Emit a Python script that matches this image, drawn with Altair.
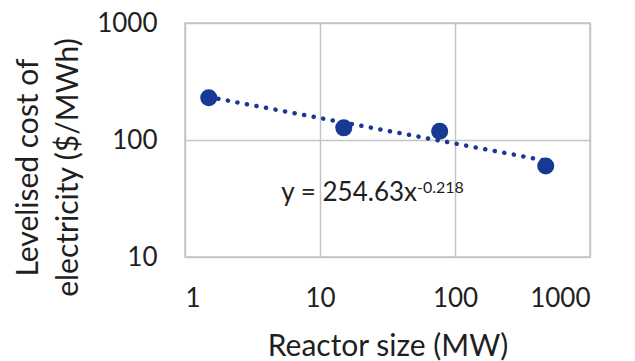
import altair as alt
import pandas as pd

# Reactor size (MW) and levelised cost of electricity ($/MWh)
reactor_size_mw = [1.5, 15, 77, 470]
lcoe_usd_mwh = [230, 127, 119, 60]

# Power-law trend: y = a * x^b
trend_a = 254.63
trend_b = -0.218

# Equation label anchor (data coordinates)
eq_anchor_x = [52.3]
eq_main_y = [30.1]
eq_sup_y = [35.0]
eq_main_text = ["y = 254.63x"]
eq_sup_text = ["-0.218"]

FONT = "Lato"
TEXT = "#1f1f1f"
BLUE = "#173893"
GRID = "#c4c4c4"

points = pd.DataFrame({"size": reactor_size_mw, "lcoe": lcoe_usd_mwh})
eq = pd.DataFrame({
    "x": eq_anchor_x,
    "y_main": eq_main_y,
    "y_sup": eq_sup_y,
    "main": eq_main_text,
    "sup": eq_sup_text,
})

x_scale = alt.Scale(type="log", domain=[1, 1000], nice=False)
y_scale = alt.Scale(type="log", domain=[10, 1000], nice=False)

x_axis = alt.Axis(
    values=[1, 10, 100, 1000], format="d", grid=True, gridColor=GRID, gridWidth=1.5,
    domain=False, ticks=False, tickSize=0, labelFont=FONT, labelFontSize=26,
    labelColor=TEXT, labelPadding=28, labelBaseline="top",
    title="Reactor size (MW)", titleFont=FONT, titleFontSize=30,
    titleFontWeight="normal", titleColor=TEXT, titleY=98,
    titleBaseline="alphabetic",
)
y_axis = alt.Axis(
    values=[10, 100, 1000], format="d", grid=True, gridColor=GRID, gridWidth=1.5,
    domain=False, ticks=False, tickSize=0, labelFont=FONT, labelFontSize=26,
    labelColor=TEXT, labelPadding=28, labelBaseline="middle",
    title=["Levelised cost of", "electricity ($/MWh)"], titleFont=FONT,
    titleFontSize=30, titleFontWeight="normal", titleColor=TEXT,
    titleAngle=-90, titleX=-148, titleY=144, titleAlign="center",
    titleBaseline="alphabetic", titleLineHeight=40,
)

base = alt.Chart(points)

trend = base.transform_calculate(
    trend=f"{trend_a} * pow(datum.size, {trend_b})"
).mark_line(
    color=BLUE, strokeWidth=4.5, strokeDash=[0.1, 9.6], strokeCap="round"
).encode(
    x=alt.X("size:Q", scale=x_scale, axis=x_axis),
    y=alt.Y("trend:Q", scale=y_scale, axis=y_axis),
)

dots = base.mark_circle(color=BLUE, size=290, opacity=1).encode(
    x=alt.X("size:Q", scale=x_scale),
    y=alt.Y("lcoe:Q", scale=y_scale),
)

eq_main = alt.Chart(eq).mark_text(
    font=FONT, fontSize=26, color=TEXT, align="right", baseline="alphabetic"
).encode(
    x=alt.X("x:Q", scale=x_scale),
    y=alt.Y("y_main:Q", scale=y_scale),
    text="main:N",
)

eq_sup = alt.Chart(eq).mark_text(
    font=FONT, fontSize=16, color=TEXT, align="left", baseline="alphabetic"
).encode(
    x=alt.X("x:Q", scale=x_scale),
    y=alt.Y("y_sup:Q", scale=y_scale),
    text="sup:N",
)

chart = alt.layer(trend, dots, eq_main, eq_sup).properties(
    width=405,
    height=234,
    autosize=alt.AutoSizeParams(type="none"),
    padding={"left": 185, "top": 23, "right": 45, "bottom": 104},
    background="white",
).configure_view(
    stroke=GRID, strokeWidth=1.5
)

chart.save("out.html", embed_options={"renderer": "svg", "actions": False})
